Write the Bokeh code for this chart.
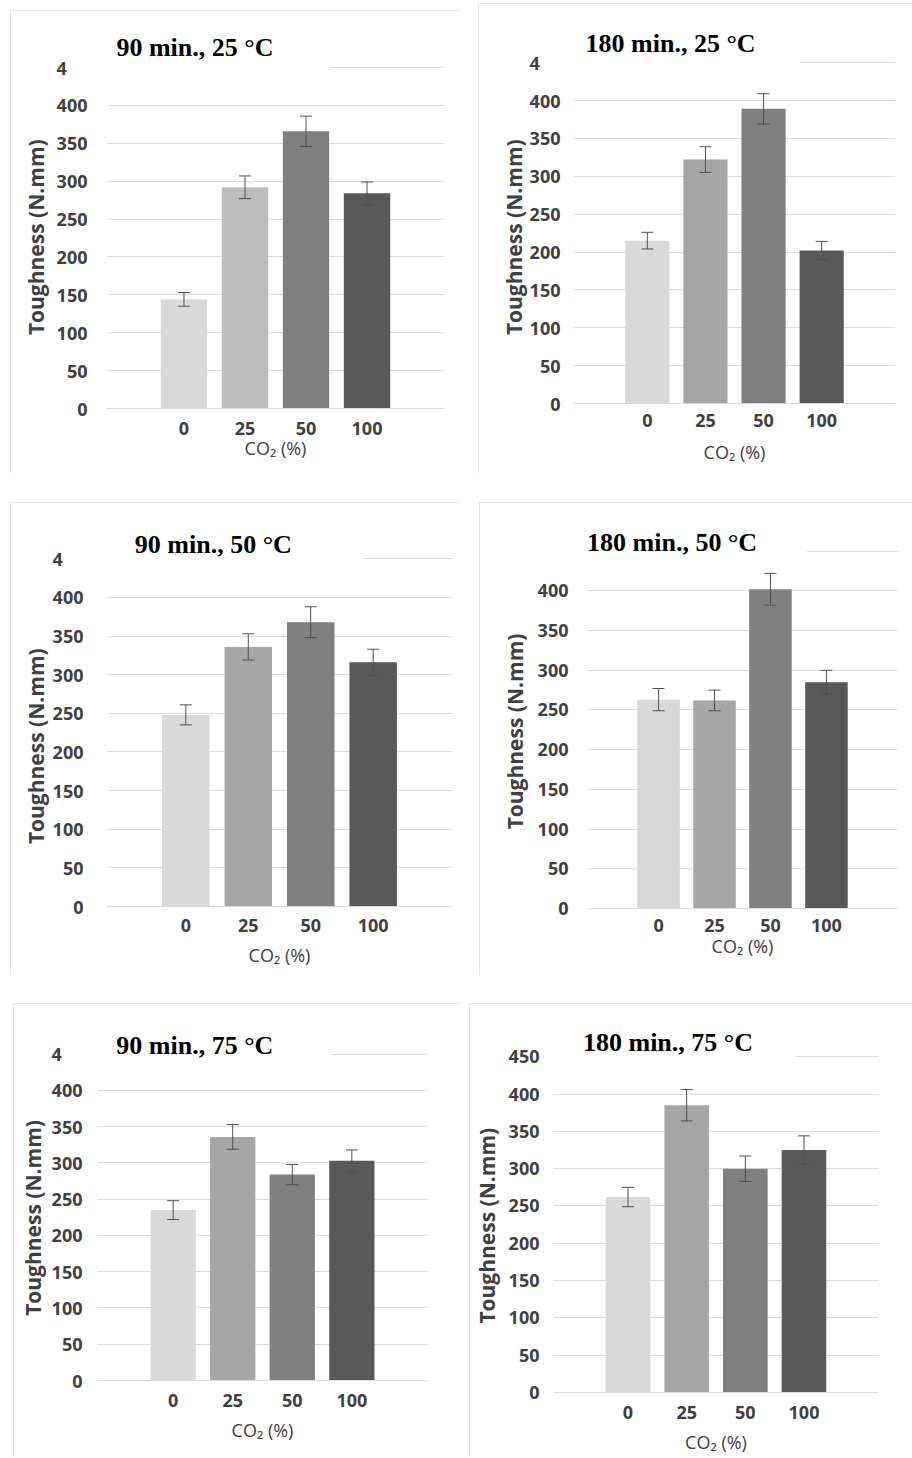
from bokeh.plotting import figure
from bokeh.models import (FactorRange, Range1d, FixedTicker, ColumnDataSource,
                          Whisker, TeeHead, Label)
from bokeh.layouts import column, row
from bokeh.embed import file_html
from bokeh.resources import INLINE

# ---------------- data ----------------
categories = ["0", "25", "50", "100"]
y_ticks = [0, 50, 100, 150, 200, 250, 300, 350, 400, 450]
y_label = "Toughness (N.mm)"
x_label = "CO₂ (%)"

titles = ["90 min., 25 °C", "180 min., 25 °C",
          "90 min., 50 °C", "180 min., 50 °C",
          "90 min., 75 °C", "180 min., 75 °C"]

tough_90_25 = [144, 292, 366, 284]
err_90_25 = [9, 15, 20, 15]
tough_180_25 = [215, 322, 389, 202]
err_180_25 = [11, 17, 20, 12]
tough_90_50 = [248, 336, 368, 316]
err_90_50 = [13, 17, 20, 17]
tough_180_50 = [263, 262, 402, 285]
err_180_50 = [14, 13, 20, 15]
tough_90_75 = [235, 336, 284, 303]
err_90_75 = [13, 17, 14, 15]
tough_180_75 = [262, 385, 300, 325]
err_180_75 = [13, 21, 17, 19]

values = [tough_90_25, tough_180_25, tough_90_50, tough_180_50, tough_90_75, tough_180_75]
errors = [err_90_25, err_180_25, err_90_50, err_180_50, err_90_75, err_180_75]

# the top tick label is partly hidden behind each panel's title box
FS = "\u2007"
top_tick_visible = ["4" + FS * 2, "4" + FS * 2, "4" + FS * 2, "", "4" + FS * 2, "450"]

# ---------------- layout / style ----------------
GREYS = ["#d9d9d9", "#a6a6a6", "#7f7f7f", "#595959"]
GREYS_1 = ["#d9d9d9", "#bdbdbd", "#7f7f7f", "#595959"]

# margin = (top, right, bottom, left) in px; ylab_shift = px the y title sits below frame centre
cfg = [
    dict(m=(10, 0, 0, 10), w=451, h=463, mbl=96, mbr=17, mbt=10, mbb=65, ymax=512.2,
         tx=0.72, ty=476.6, ys=19, xs=13, xls=-2, yls=4, ylab_shift=24,
         pad=dict(left=52, right=57, top=8, bottom=7), colors=GREYS_1),
    dict(m=(3, 0, 0, 17), w=434, h=470, mbl=95, mbr=17, mbt=15, mbb=70, ymax=508.3,
         tx=0.90, ty=476.5, ys=13, xs=10, xls=10, yls=-1, ylab_shift=27,
         pad=dict(left=45, right=45, top=8, bottom=6), colors=GREYS),
    dict(m=(29, 0, 0, 10), w=451, h=473, mbl=96, mbr=9, mbt=10, mbb=69, ymax=510.0,
         tx=0.94, ty=469.9, ys=23, xs=12, xls=8, yls=0, ylab_shift=38,
         pad=dict(left=71, right=71, top=8, bottom=6), colors=GREYS),
    dict(m=(29, 0, 0, 18), w=433, h=473, mbl=108, mbr=15, mbt=10, mbb=67, ymax=498.7,
         tx=0.75, ty=462.2, ys=19, xs=10, xls=-1, yls=6, ylab_shift=19,
         pad=dict(left=49, right=50, top=8, bottom=5), colors=GREYS),
    dict(m=(28, 0, 0, 13), w=448, h=454, mbl=84, mbr=34, mbt=10, mbb=77, ymax=506.2,
         tx=0.89, ty=466.0, ys=15, xs=13, xls=8, yls=2, ylab_shift=21,
         pad=dict(left=55, right=58, top=8, bottom=2), colors=GREYS),
    dict(m=(28, 0, 0, 8), w=443, h=454, mbl=81, mbr=34, mbt=10, mbb=65, ymax=508.0,
         tx=1.19, ty=473.2, ys=14, xs=13, xls=8, yls=5, ylab_shift=23,
         pad=dict(left=41, right=42, top=8, bottom=2), colors=GREYS),
]

FONT = "Open Sans"
TEXT_COLOR = "#404040"
YLAB_SIZE = 21


def trailing_space(shift_px):
    # invisible trailing spaces move the centred (rotated) title down by shift_px
    width = 2 * shift_px
    em, rest = divmod(width, YLAB_SIZE)
    s = "\u2003" * int(em)
    if rest >= YLAB_SIZE * 0.75:
        s += "\u2003"
    elif rest >= YLAB_SIZE * 0.35:
        s += "\u2002"
    elif rest >= YLAB_SIZE * 0.12:
        s += "\u2009"
    return s


def make_panel(i):
    c = cfg[i]
    vals = values[i]
    errs = errors[i]
    src = ColumnDataSource(dict(
        cat=categories, val=vals,
        upper=[v + e for v, e in zip(vals, errs)],
        lower=[v - e for v, e in zip(vals, errs)],
        color=c["colors"],
    ))
    p = figure(x_range=FactorRange(factors=categories, range_padding=0.77,
                                   range_padding_units="absolute"),
               y_range=Range1d(0, c["ymax"]),
               width=c["w"], height=c["h"], margin=c["m"],
               min_border_left=c["mbl"], min_border_right=c["mbr"],
               min_border_top=c["mbt"], min_border_bottom=c["mbb"],
               output_backend="svg", toolbar_location=None)
    p.vbar(x="cat", top="val", width=0.76, fill_color="color", line_color=None, source=src)

    w = Whisker(base="cat", upper="upper", lower="lower", source=src,
                line_color="#505050", line_width=1, level="annotation",
                upper_head=TeeHead(size=12, line_color="#505050", line_width=1),
                lower_head=TeeHead(size=12, line_color="#505050", line_width=1))
    p.add_layout(w)

    p.outline_line_color = None
    p.xgrid.grid_line_color = None
    p.ygrid.grid_line_color = "#dedede"
    p.ygrid.ticker = FixedTicker(ticks=y_ticks)

    ya = p.yaxis[0]
    ya.ticker = FixedTicker(ticks=y_ticks)
    ya.major_label_overrides = {y_ticks[-1]: top_tick_visible[i]}
    ya.axis_line_color = None
    ya.major_tick_line_color = None
    ya.minor_tick_line_color = None
    ya.major_tick_out = 0
    ya.major_tick_in = 0
    ya.minor_tick_out = 0
    ya.major_label_standoff = c["ys"]
    ya.major_label_text_font = FONT
    ya.major_label_text_font_size = "18px"
    ya.major_label_text_font_style = "bold"
    ya.major_label_text_color = TEXT_COLOR
    ya.axis_label = y_label + trailing_space(c["ylab_shift"])
    ya.axis_label_text_font = FONT
    ya.axis_label_text_font_size = f"{YLAB_SIZE}px"
    ya.axis_label_text_font_style = "bold"
    ya.axis_label_text_color = TEXT_COLOR
    ya.axis_label_standoff = c["yls"]

    xa = p.xaxis[0]
    xa.axis_line_color = "#d9d9d9"
    xa.major_tick_line_color = None
    xa.minor_tick_line_color = None
    xa.major_tick_out = 0
    xa.major_tick_in = 0
    xa.minor_tick_out = 0
    xa.major_label_standoff = c["xs"]
    xa.major_label_text_font = FONT
    xa.major_label_text_font_size = "18px"
    xa.major_label_text_font_style = "bold"
    xa.major_label_text_color = TEXT_COLOR
    xa.axis_label = x_label
    xa.axis_label_text_font = FONT
    xa.axis_label_text_font_size = "18px"
    xa.axis_label_text_font_style = "normal"
    xa.axis_label_text_color = TEXT_COLOR
    xa.axis_label_standoff = c["xls"]

    lab = Label(x=c["tx"], y=c["ty"], text=titles[i], text_align="center",
                text_baseline="middle", text_font="Liberation Serif",
                text_font_size="26px", text_font_style="bold", text_color="black",
                background_fill_color="white", background_fill_alpha=1.0,
                level="overlay")
    pd = c["pad"]
    try:
        lab.padding = pd
    except Exception:
        lab.padding = (pd["top"], pd["right"], pd["bottom"], pd["left"])
    p.add_layout(lab)

    p.styles = {"outline": "2px solid #dedede", "outline-offset": "-2px"}
    return p


panels = [column(make_panel(i), spacing=0) for i in range(6)]
layout = column(
    row(panels[0], panels[1], spacing=0),
    row(panels[2], panels[3], spacing=0),
    row(panels[4], panels[5], spacing=0),
    spacing=0,
)

open("out.html", "w").write(file_html(layout, INLINE))
